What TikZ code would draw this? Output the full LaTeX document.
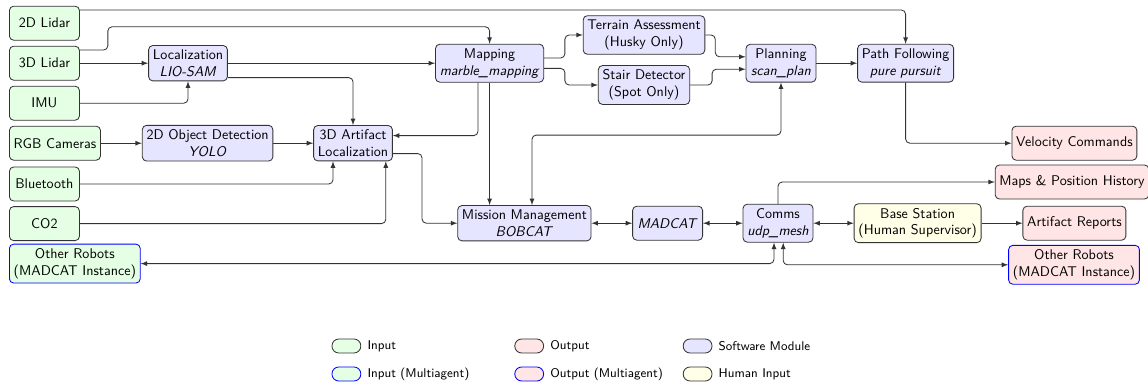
\documentclass[tikz,border=0pt]{standalone}
\usepackage{tikz}
\usetikzlibrary{positioning}

\tikzset{
	block/.style={draw=black!80, semithick, rounded corners=3pt, minimum width=1.75cm, minimum height=0.85cm, inner sep=3pt, align=center, font=\sffamily},
	inbox/.style={block, fill=green!10},
	outbox/.style={block, fill=red!10},
	softbox/.style={block, fill=blue!10},
	humanbox/.style={block, fill=yellow!10},
	multiagent/.style={draw=blue},
	arr/.style={-latex, semithick, draw=black!80, rounded corners=3pt},
	both/.style={latex-latex},
	legkey/.style={semithick, rounded corners=0.17cm, minimum width=0.72cm, minimum height=0.35cm, inner sep=0pt},
	legtext/.style={font=\sffamily\small, inner sep=0pt}
}

\begin{document}
\begin{tikzpicture}
		\useasboundingbox (0, 0) rectangle (28.7, -9.625);
		% inputs
		\node[inbox, anchor=west] (lidar2d) at (0.225, -0.58) {2D Lidar};
		\node[inbox, anchor=west] (lidar3d) at (0.225, -1.58) {3D Lidar};
		\node[inbox, anchor=west] (imu) at (0.225, -2.58) {IMU};
		\node[inbox, anchor=west] (rgb) at (0.225, -3.58) {RGB Cameras};
		\node[inbox, anchor=west] (bluetooth) at (0.225, -4.6) {Bluetooth};
		\node[inbox, anchor=west] (co2) at (0.225, -5.59) {CO2};
		\node[inbox, multiagent, anchor=west] (otherin) at (0.225, -6.59) {Other Robots\\(MADCAT Instance)};
		% software modules
		\node[softbox] (loc) at (4.7, -1.58) {Localization\\\textit{LIO-SAM}};
		\node[softbox] (yolo) at (5.19, -3.58) {2D Object Detection\\\textit{YOLO}};
		\node[softbox] (artifact) at (8.825, -3.58) {3D Artifact\\Localization};
		\node[softbox] (mapping) at (12.24, -1.58) {Mapping\\\textit{marble\_mapping}};
		\node[softbox] (terrain) at (16.1, -0.875) {Terrain Assessment\\(Husky Only)};
		\node[softbox] (stair) at (16.1, -2.125) {Stair Detector\\(Spot Only)};
		\node[softbox] (planning) at (19.525, -1.58) {Planning\\\textit{scan\_plan}};
		\node[softbox] (pathfollow) at (22.64, -1.58) {Path Following\\\textit{pure pursuit}};
		\node[softbox] (mission) at (13.11, -5.58) {Mission Management\\\textit{BOBCAT}};
		\node[softbox] (madcat) at (16.69, -5.58) {\textit{MADCAT}};
		\node[softbox] (comms) at (19.45, -5.58) {Comms\\\textit{udp\_mesh}};
		\node[humanbox] (base) at (22.94, -5.58) {Base Station\\(Human Supervisor)};
		% outputs
		\node[outbox] (velocity) at (26.86, -3.58) {Velocity Commands};
		\node[outbox] (maps) at (26.8, -4.55) {Maps \& Position History};
		\node[outbox] (reports) at (26.86, -5.58) {Artifact Reports};
		\node[outbox, multiagent] (otherout) at (26.85, -6.62) {Other Robots\\(MADCAT Instance)};

		\draw[arr] ([yshift=0.33cm]lidar2d.east) -| (pathfollow.north);
		\draw[arr] ([yshift=0.33cm]lidar3d.east) -- ++(0.7, 0) -- ++(0, 0.58) -| (mapping.north);
		\draw[arr] (lidar3d.east) -- (loc.west);
		\draw[arr] (loc.east) -- (mapping.west);
		\draw[arr] (imu.east) -| (loc.south);
		\draw[arr] ([yshift=-0.36cm]loc.east) -| (artifact.north);
		\draw[arr] (rgb.east) -- (yolo.west);
		\draw[arr] (yolo.east) -- (artifact.west);
		\draw[arr] (bluetooth.east) -| ([xshift=-0.5cm]artifact.south);
		\draw[arr] (co2.east) -| ([xshift=0.82cm]artifact.south);
		\draw[arr] ([xshift=-0.29cm]mapping.south) |- ([yshift=0.19cm]artifact.east);
		\draw[arr] ([yshift=-0.26cm]artifact.east) -- ++(0.73, 0) |- (mission.west);
		\draw[arr] (mapping.south) -- (mapping.south |- mission.north);
		\draw[arr, both] ([xshift=0.19cm]mission.north) -- ++(0, 1.75) -| (planning.south);
		\draw[arr] ([yshift=0.13cm]mapping.east) -- ++(0.52, 0) |- (terrain.west);
		\draw[arr] ([yshift=-0.13cm]mapping.east) -- ++(0.52, 0) |- (stair.west);
		\draw[arr] (terrain.east) -- ++(0.25, 0) |- ([yshift=0.16cm]planning.west);
		\draw[arr] (stair.east) -- ++(0.55, 0) |- ([yshift=-0.15cm]planning.west);
		\draw[arr] (planning.east) -- (pathfollow.west);
		\draw[arr] (pathfollow.south) |- (velocity.west);
		\draw[arr, both] (mission.east) -- (madcat.west);
		\draw[arr, both] (madcat.east) -- (comms.west);
		\draw[arr, both] (comms.east) -- (base.west);
		\draw[arr] (base.east) -- (reports.west);
		\draw[arr] (comms.north) |- (maps.west);
		\draw[arr, both] (otherin.east) -| ([xshift=-0.1cm]comms.south);
		\draw[arr, both] ([xshift=0.13cm]comms.south) |- (otherout.west);

		% legend
		\foreach \i/\x/\y/\fillc/\drawc/\txt in {
			1/8.66/-8.65/green!10/black!80/Input,
			2/8.66/-9.35/green!10/blue/Input (Multiagent),
			3/13.23/-8.65/red!10/black!80/Output,
			4/13.23/-9.35/red!10/blue/Output (Multiagent),
			5/17.44/-8.65/blue!10/black!80/Software Module,
			6/17.44/-9.35/yellow!10/black!80/Human Input}
		{
			\node[legkey, fill=\fillc, draw=\drawc] (legk\i) at (\x, \y) {};
			\node[legtext, right=0.15cm of legk\i] (legt\i) {\txt};
		}
	\end{tikzpicture}
\end{document}
